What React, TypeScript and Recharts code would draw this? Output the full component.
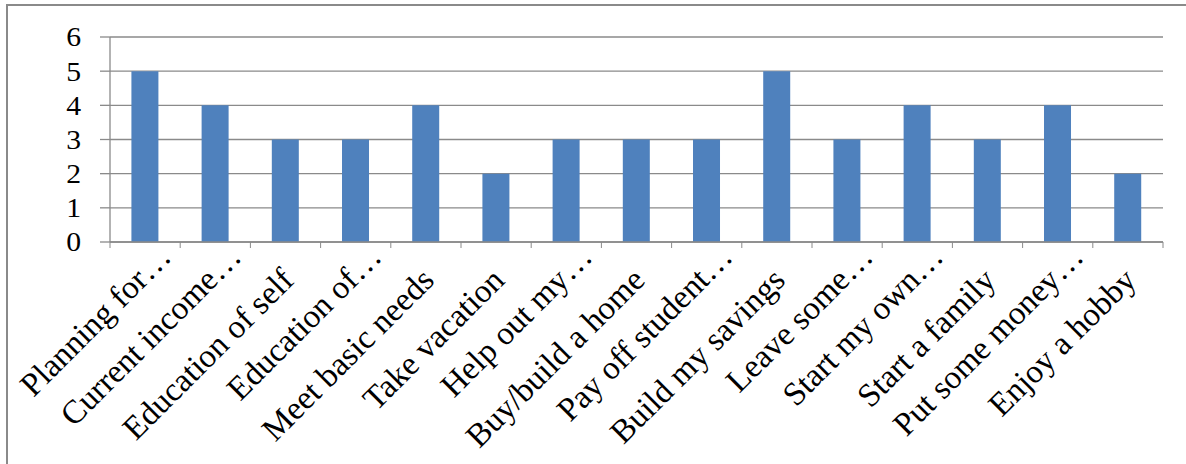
import { Bar, BarChart, CartesianGrid, XAxis, YAxis } from "recharts";

const categories = [
  "Planning for…",
  "Current income…",
  "Education of self",
  "Education of…",
  "Meet basic needs",
  "Take vacation",
  "Help out my…",
  "Buy/build a home",
  "Pay off student…",
  "Build my savings",
  "Leave some…",
  "Start my own…",
  "Start a family",
  "Put some money…",
  "Enjoy a hobby",
];
const values = [5, 4, 3, 3, 4, 2, 3, 3, 3, 5, 3, 4, 3, 4, 2];
const yTicks = [0, 1, 2, 3, 4, 5, 6];

const data = categories.map((label, i) => ({ label, value: values[i] }));

const GRAY = "#8a8a8a";
const FONT = "'Liberation Serif', 'Times New Roman', serif";

function XTick(props: any) {
  const { x, y, payload, index } = props;
  const half = payload?.offset ?? 35.1;
  const last = index === categories.length - 1;
  // truncated labels sit a little further along the diagonal
  const cut = String(payload.value).endsWith("…");
  return (
    <g>
      <line x1={x - half} y1={y} x2={x - half} y2={y + 6} stroke={GRAY} />
      {last && <line x1={x + half} y1={y} x2={x + half} y2={y + 6} stroke={GRAY} />}
      <g transform={`translate(${x + 10},${y + 40}) rotate(-45)`}>
        <text
          x={cut ? 29 : 0}
          y={cut ? -4 : 0}
          textAnchor="end"
          fontFamily={FONT}
          fontSize={33}
          fill="#000"
        >
          {payload.value}
        </text>
      </g>
    </g>
  );
}

function YTick(props: any) {
  const { x, y, payload } = props;
  return (
    <g transform={`translate(${x},${y}) scale(1.1,1)`}>
      <text x={0} y={0} dy="0.35em" textAnchor="end" fontFamily={FONT} fontSize={27} fill="#000">
        {payload.value}
      </text>
    </g>
  );
}

export default function App() {
  return (
    <div
      style={{
        position: "absolute",
        left: 0,
        top: 0,
        width: 1186,
        height: 464,
        overflow: "hidden",
        background: "#fff",
      }}
    >
      <div
        style={{
          position: "absolute",
          left: 6,
          top: 4,
          width: 1300,
          height: 600,
          border: `2px solid ${GRAY}`,
        }}
      />
      <div style={{ position: "absolute", left: 0, top: 0 }}>
        <BarChart
          width={1186}
          height={464}
          data={data}
          margin={{ top: 37, right: 23, left: 0, bottom: 22 }}
          barCategoryGap="30.5%"
        >
          <CartesianGrid vertical={false} stroke={GRAY} strokeWidth={1.3} />
          <XAxis
            dataKey="label"
            interval={0}
            height={200}
            tickLine={false}
            tickSize={0}
            tickMargin={0}
            axisLine={{ stroke: GRAY, strokeWidth: 1.3 }}
            tick={<XTick />}
          />
          <YAxis
            width={110}
            domain={[0, 6]}
            ticks={yTicks}
            interval={0}
            tickSize={10}
            tickMargin={19}
            tickLine={{ stroke: GRAY, strokeWidth: 1.3 }}
            axisLine={{ stroke: GRAY, strokeWidth: 1.3 }}
            tick={<YTick />}
          />
          <Bar dataKey="value" fill="#4F81BD" isAnimationActive={false} />
        </BarChart>
      </div>
    </div>
  );
}
